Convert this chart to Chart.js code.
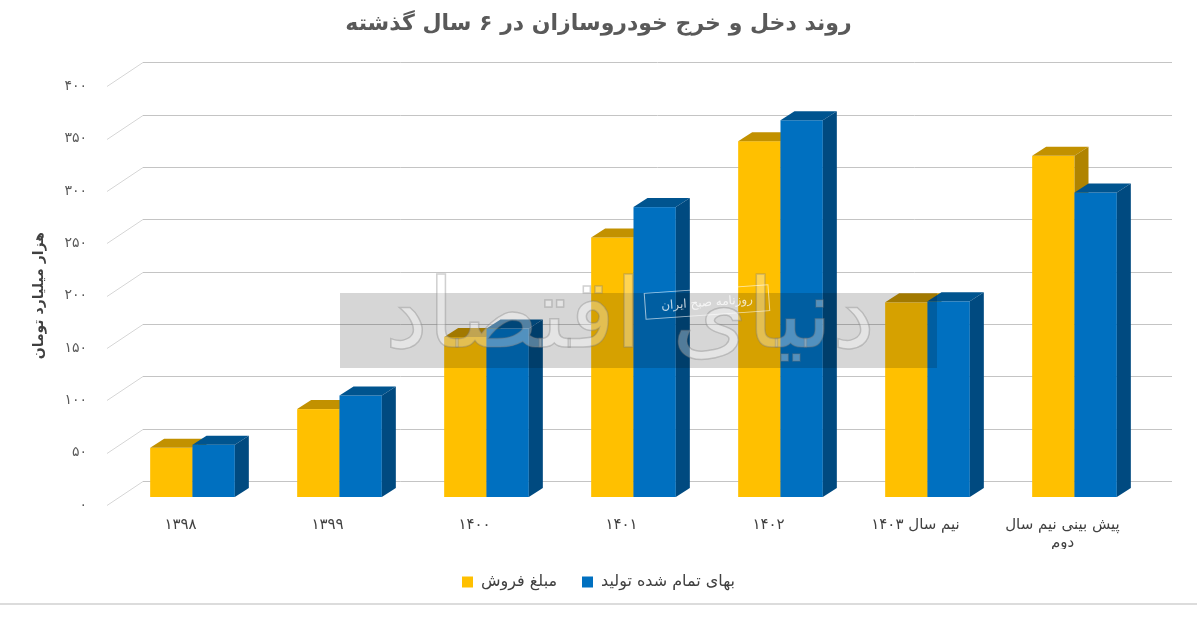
<!DOCTYPE html>
<html lang="fa">
<head>
<meta charset="utf-8">
<script src="https://cdn.jsdelivr.net/npm/chart.js@4.4.1/dist/chart.umd.min.js"></script>
<style>
html,body{margin:0;padding:0;background:#fff;}
#wrap{width:1197px;height:617px;position:relative;}
</style>
</head>
<body>
<div id="wrap"><canvas id="c"></canvas></div>
<script>
// ---- data ----
const categories = ['۱۳۹۸', '۱۳۹۹', '۱۴۰۰', '۱۴۰۱', '۱۴۰۲', 'نیم سال ۱۴۰۳', ['پیش بینی نیم سال', 'دوم']];
const salesValues = [47, 84, 153, 248, 340, 186, 326];
const costValues = [50, 97, 161, 277, 360, 187, 291];
const yTickLabels = ['۰', '۵۰', '۱۰۰', '۱۵۰', '۲۰۰', '۲۵۰', '۳۰۰', '۳۵۰', '۴۰۰'];
const seriesNames = ['مبلغ فروش', 'بهای تمام شده تولید'];
const chartTitle = 'روند دخل و خرج خودروسازان در ۶ سال گذشته';
const yAxisTitle = 'هزار میلیارد تومان';

// ---- styling ----
const FONT = '"DejaVu Sans", sans-serif';
const faces = [
  {front: '#FFC000', top: '#C29100', side: '#B08400'},
  {front: '#0070C0', top: '#00548F', side: '#004A80'}
];
const BAR_SHIFT_X = 12, BAR_SHIFT_Y = -8;   // bars sit behind the front floor edge
const DEPTH_X = 14, DEPTH_Y = 9;            // bar depth
const WALL_X = 36, WALL_Y = 24;             // floor depth to back wall

const bars3d = {
  id: 'bars3d',
  beforeDatasetsDraw(chart) {
    const ctx = chart.ctx;
    const ys = chart.scales.y;
    const area = chart.chartArea;
    ctx.save();
    ctx.lineWidth = 1;
    ys.ticks.forEach(t => {
      const py = Math.round(ys.getPixelForValue(t.value)) + 0.5;
      ctx.strokeStyle = '#d6d6d6';
      ctx.beginPath();
      ctx.moveTo(area.left, py);
      ctx.lineTo(area.left + WALL_X, py - WALL_Y);
      ctx.stroke();
      ctx.strokeStyle = '#c4c4c4';
      ctx.beginPath();
      ctx.moveTo(area.left + WALL_X, py - WALL_Y);
      ctx.lineTo(area.right + WALL_X, py - WALL_Y);
      ctx.stroke();
    });
    ctx.restore();

    ctx.save();
    ctx.translate(BAR_SHIFT_X, BAR_SHIFT_Y);
    chart.data.datasets.forEach((ds, di) => {
      const meta = chart.getDatasetMeta(di);
      const c = faces[di];
      meta.data.forEach(bar => {
        const p = bar.getProps(['x', 'y', 'base', 'width'], true);
        const l = p.x - p.width / 2, r = p.x + p.width / 2;
        const top = Math.min(p.y, p.base), base = Math.max(p.y, p.base);
        ctx.fillStyle = c.front;
        ctx.fillRect(l, top, r - l, base - top);
        ctx.fillStyle = c.top;
        ctx.beginPath();
        ctx.moveTo(l, top);
        ctx.lineTo(r, top);
        ctx.lineTo(r + DEPTH_X, top - DEPTH_Y);
        ctx.lineTo(l + DEPTH_X, top - DEPTH_Y);
        ctx.closePath();
        ctx.fill();
        ctx.fillStyle = c.side;
        ctx.beginPath();
        ctx.moveTo(r, top);
        ctx.lineTo(r + DEPTH_X, top - DEPTH_Y);
        ctx.lineTo(r + DEPTH_X, base - DEPTH_Y);
        ctx.lineTo(r, base);
        ctx.closePath();
        ctx.fill();
      });
    });
    ctx.restore();
    return false;
  },
  afterDraw(chart) {
    const ctx = chart.ctx;
    ctx.save();
    // watermark band
    ctx.fillStyle = 'rgba(0,0,0,0.16)';
    ctx.fillRect(340, 293, 597, 75);
    // logo text
    ctx.textAlign = 'center';
    ctx.textBaseline = 'middle';
    let size = 110;
    ctx.font = size + 'px ' + FONT;
    const w = ctx.measureText('دنیای اقتصاد').width;
    size = size * 490 / w;
    ctx.font = size + 'px ' + FONT;
    ctx.fillStyle = 'rgba(255,255,255,0.32)';
    ctx.fillText('دنیای اقتصاد', 630, 322);
    ctx.lineWidth = 1.5;
    ctx.strokeStyle = 'rgba(120,120,120,0.35)';
    ctx.strokeText('دنیای اقتصاد', 630, 322);
    // small badge
    ctx.translate(707, 302);
    ctx.rotate(-0.07);
    ctx.strokeStyle = 'rgba(255,255,255,0.6)';
    ctx.lineWidth = 1;
    ctx.strokeRect(-62, -13, 124, 26);
    ctx.fillStyle = 'rgba(255,255,255,0.75)';
    ctx.font = '12px ' + FONT;
    ctx.fillText('روزنامه صبح ایران', 0, 1);
    ctx.restore();
    // bottom separator
    ctx.save();
    ctx.fillStyle = '#dcdcdc';
    ctx.fillRect(0, 603, 1197, 2);
    ctx.restore();
  }
};

Chart.defaults.font.family = FONT;

new Chart(document.getElementById('c'), {
  type: 'bar',
  data: {
    labels: categories,
    datasets: [
      {label: seriesNames[0], data: salesValues, backgroundColor: faces[0].front, borderWidth: 0},
      {label: seriesNames[1], data: costValues, backgroundColor: faces[1].front, borderWidth: 0}
    ]
  },
  options: {
    responsive: true,
    maintainAspectRatio: false,
    animation: false,
    layout: {padding: {left: 0, right: 0, top: 0, bottom: 17}},
    datasets: {bar: {categoryPercentage: 0.576, barPercentage: 1}},
    plugins: {
      title: {
        display: true, text: chartTitle, color: '#595959',
        font: {size: 22, weight: 'bold'}, padding: {top: 11, bottom: 49}
      },
      legend: {
        position: 'bottom',
        labels: {boxWidth: 11, boxHeight: 11, padding: 25, color: '#404040', font: {size: 16}}
      },
      tooltip: {enabled: false}
    },
    scales: {
      x: {
        grid: {display: false, drawTicks: false},
        border: {display: false},
        ticks: {color: '#404040', font: {size: 15}, padding: 11, maxRotation: 0, autoSkip: false},
        afterFit(s) { s.height = 44; }
      },
      y: {
        min: 0, max: 400,
        grid: {display: false, drawTicks: false},
        border: {display: false},
        ticks: {stepSize: 50, color: '#595959', font: {size: 14}, padding: 20,
          callback: (v, i) => yTickLabels[i]},
        title: {display: true, text: yAxisTitle, color: '#404040', font: {size: 14, weight: 'bold'}, padding: {top: 31, bottom: 0}},
        afterFit(s) { s.width = 107; }
      },
      yRight: {
        position: 'right', display: true,
        grid: {display: false, drawTicks: false},
        border: {display: false},
        ticks: {display: false},
        afterFit(s) { s.width = 61; }
      }
    }
  },
  plugins: [bars3d]
});
</script>
</body>
</html>
